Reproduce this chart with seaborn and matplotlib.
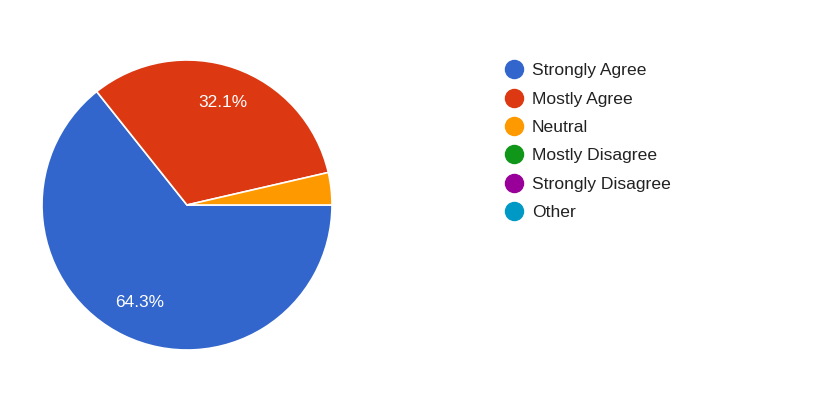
import matplotlib
matplotlib.use("Agg")
import matplotlib.pyplot as plt
import seaborn as sns
from matplotlib.lines import Line2D

categories = ["Strongly Agree", "Mostly Agree", "Neutral",
              "Mostly Disagree", "Strongly Disagree", "Other"]
values = [64.3, 32.1, 3.6, 0.0, 0.0, 0.0]
colors = ["#3366cc", "#dc3912", "#ff9900", "#109618", "#990099", "#0099c6"]

sns.set_theme(style="white")
plt.rcParams['font.family'] = ['Liberation Sans', 'DejaVu Sans']

fig = plt.figure(figsize=(8.4, 3.93), dpi=100)
fig.patch.set_facecolor("white")
ax = fig.add_axes([42 / 840, (393 - 350) / 393, 290 / 840, 290 / 393])

nz = [(v, c) for v, c in zip(values, colors) if v > 0]
pie_vals = [v for v, _ in nz]
pie_cols = [c for _, c in nz]


def fmt(p):
    return f"{p:.1f}%" if p >= 5 else ""


wedges, texts, autotexts = ax.pie(
    pie_vals, colors=pie_cols, startangle=0, counterclock=False,
    autopct=fmt, pctdistance=0.75,
    wedgeprops=dict(edgecolor="white", linewidth=1.2),
    textprops=dict(color="white", fontsize=12.4),
)
ax.set_aspect("equal")
ax.set_xlim(-1, 1)
ax.set_ylim(-1, 1)

handles = [Line2D([0], [0], marker="o", linestyle="", markersize=13,
                  markerfacecolor=c, markeredgecolor=c) for c in colors]
leg = fig.legend(handles, categories, loc="upper left",
                 bbox_to_anchor=(505 / 840, 1 - 63 / 393), frameon=False,
                 fontsize=12.6, handletextpad=0.53, labelspacing=0.75,
                 handlelength=1.0, borderaxespad=0, borderpad=0)
for t in leg.get_texts():
    t.set_color("#222222")

fig.savefig("out.png", dpi=100, facecolor="white")
